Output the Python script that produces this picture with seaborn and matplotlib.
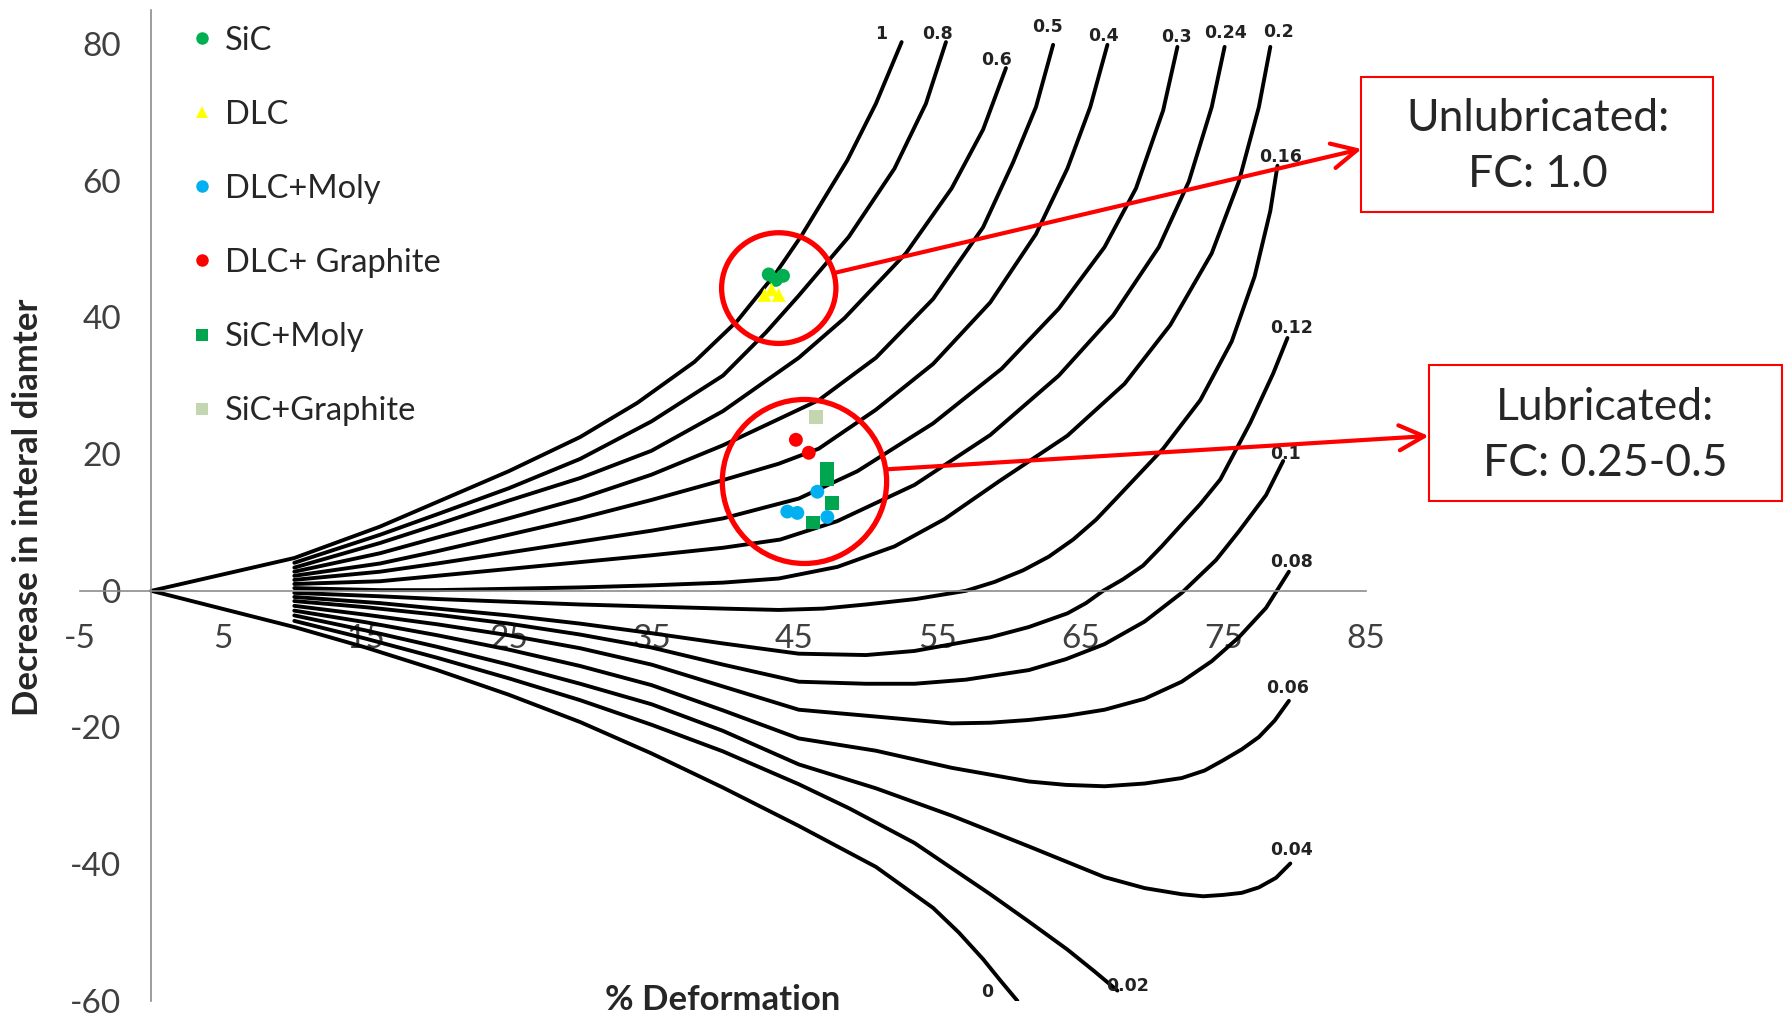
import numpy as np
import pandas as pd
import seaborn as sns
import matplotlib.pyplot as plt
from matplotlib.patches import Ellipse, Rectangle
from matplotlib.lines import Line2D

sns.set_style("white")
plt.rcParams['font.family'] = ['Lato', 'DejaVu Sans']
plt.rcParams['axes.unicode_minus'] = False

# ring compression calibration curves (friction factor m)
m_labels = ['1', '0.8', '0.6', '0.5', '0.4', '0.3', '0.24', '0.2',
            '0.16', '0.12', '0.1', '0.08', '0.06', '0.04', '0.02', '0']

m100_x = [0, 10, 16, 20, 25, 30, 34, 38, 41, 43.7, 45.5, 48.7, 50.7, 52.5]
m100_y = [0, 4.8, 9.4, 13, 17.5, 22.5, 27.5, 33.5, 39.5, 46.5, 52, 63, 71.3, 80.3]
m080_x = [10, 16, 20, 25, 30, 35, 40, 43, 45.3, 48.8, 52, 54.2, 55.6]
m080_y = [4.1, 8.2, 11.2, 15, 19.3, 24.8, 31.5, 37.8, 43.2, 51.8, 61.8, 71.3, 80.3]
m060_x = [10, 16, 20, 25, 30, 35, 40, 45.3, 48.5, 52.8, 56.0, 58.2, 59.8]
m060_y = [3.4, 7.0, 9.7, 13.2, 16.5, 20.5, 26.3, 34.1, 39.9, 49.4, 58.9, 67.5, 76.5]
m050_x = [10, 16, 20, 25, 30, 35, 40, 46.7, 50.7, 54.7, 58.2, 60.3, 61.9, 63.1]
m050_y = [2.8, 5.5, 7.8, 10.6, 13.5, 17, 21.3, 27.9, 34.1, 42.7, 53.2, 62.7, 70.8, 79.9]
m040_x = [10, 16, 20, 25, 30, 35, 40, 43.9, 46.7, 50.7, 54.7, 58.7, 61.9, 64.1, 65.7, 66.9]
m040_y = [2.2, 4.0, 5.8, 8.2, 10.6, 13.3, 16.2, 18.6, 20.8, 26.5, 33.2, 42.2, 52.2, 61.8, 70.8, 79.9]
m030_x = [10, 16, 20, 25, 30, 35, 40, 45.3, 49.4, 54.7, 59.5, 63.5, 66.7, 68.9, 70.8, 71.8]
m030_y = [1.6, 2.8, 4.0, 5.6, 7.2, 8.8, 10.6, 13.5, 17.5, 24.5, 32.5, 41.3, 50.3, 58.9, 70.3, 79.6]
m024_x = [10, 16, 20, 25, 30, 35, 40, 44, 48, 53.4, 58.7, 63.5, 67.3, 70.5, 72.6, 74.2, 75.1]
m024_y = [1.0, 1.4, 2.2, 3.2, 4.2, 5.2, 6.3, 7.5, 10.2, 15.5, 22.8, 31.5, 40.3, 50.3, 59.9, 70.8, 79.6]
m020_x = [10, 16, 20, 25, 30, 35, 40, 43.9, 48, 52, 55.5, 59.3, 64.1, 68.1, 71.3, 74.2, 76.1, 77.5, 78.3]
m020_y = [0.4, 0.1, 0.1, 0.3, 0.5, 0.8, 1.2, 1.8, 3.5, 6.5, 10.5, 16.0, 22.7, 30.3, 38.9, 49.4, 59.9, 70.8, 79.6]
m016_x = [10, 16, 20, 25, 30, 35, 40, 43.9, 47, 50, 53.5, 57, 59, 61, 62.8, 64.5, 66.1,
          67.6, 70.8, 73.4, 75.6, 77.2, 78.3, 78.8]
m016_y = [-0.3, -0.8, -1.2, -1.6, -2.0, -2.3, -2.6, -2.8, -2.6, -2.0, -1.2, 0, 1.3, 3.0, 5.0,
          7.5, 10.4, 13.7, 20.8, 27.9, 36.5, 46.0, 55.6, 62.2]
m012_x = [10, 16, 20, 25, 30, 35, 40, 45.3, 50, 53.4, 58.7, 61.4, 64.1, 65.4, 66.6, 68,
          69.4, 70.7, 72, 73.4, 74.8, 76.9, 78.5, 79.5]
m012_y = [-0.9, -1.8, -2.6, -3.6, -4.8, -6.2, -7.7, -9.2, -9.4, -8.8, -6.8, -5.3, -3.3, -1.8,
          0, 1.7, 3.7, 6.5, 9.5, 12.7, 16.3, 24.6, 31.8, 37.0]
m010_x = [10, 15, 20, 25, 30, 35, 40, 45.3, 50, 53.4, 57, 61.4, 64, 66.7, 69.5, 72.1, 74.5, 76.1, 78.0, 79.2]
m010_y = [-1.5, -2.4, -3.5, -4.8, -6.4, -8.3, -10.8, -13.3, -13.6, -13.6, -13.0, -11.6, -10.0,
          -7.8, -4.5, -0.3, 4.5, 8.7, 14.0, 19.0]
m008_x = [10, 15, 20, 25, 30, 35, 40, 45.3, 50.7, 56.0, 58.7, 61.4, 64, 66.7, 69.5, 72.1,
          74.2, 76.1, 78, 79.6]
m008_y = [-2.2, -3.5, -4.9, -6.5, -8.4, -10.8, -14.0, -17.4, -18.4, -19.4, -19.3, -18.9, -18.3,
          -17.4, -15.8, -13.3, -10.3, -6.8, -2.5, 2.8]
m006_x = [10, 15, 20, 25, 30, 35, 40, 45.3, 50.7, 56.0, 61.4, 64, 66.7, 69.5, 72.1, 73.7,
          75, 76.3, 77.5, 78.6, 79.6]
m006_y = [-2.9, -4.6, -6.5, -8.6, -11.0, -13.8, -17.5, -21.6, -23.4, -25.9, -27.9, -28.4, -28.6,
          -28.2, -27.4, -26.3, -24.8, -23.2, -21.4, -19.0, -16.1]
m004_x = [10, 15, 20, 25, 30, 35, 40, 45.3, 50.7, 56.0, 61.4, 66.7, 69.5, 72.1, 73.6, 75,
          76.3, 77.5, 78.7, 79.7]
m004_y = [-3.6, -5.8, -8.2, -10.8, -13.6, -16.6, -20.5, -25.4, -28.9, -32.9, -37.4, -41.9, -43.5,
          -44.4, -44.7, -44.5, -44.2, -43.4, -42.0, -39.9]
m002_x = [10, 15, 20, 25, 30, 35, 40, 45.3, 48.8, 53.4, 58.7, 61.4, 64.1, 66, 67.6]
m002_y = [-4.4, -7.0, -9.8, -12.8, -16.0, -19.6, -23.5, -28.3, -31.8, -36.9, -44.4, -48.4, -52.5,
          -55.7, -58.5]
m000_x = [0, 10, 15, 20, 25, 30, 35, 40, 45.3, 50.7, 54.7, 56.5, 58.2, 59.4, 60.6]
m000_y = [0, -5.3, -8.3, -11.6, -15.2, -19.2, -23.8, -28.8, -34.4, -40.4, -46.4, -50.0, -53.9,
          -57.0, -60.0]

# measured rings
coatings = ['SiC', 'DLC', 'DLC+Moly', 'DLC+ Graphite', 'SiC+Moly', 'SiC+Graphite']
sic_x, sic_y = [43.2, 44.2, 43.7], [46.3, 46.1, 45.5]
dlc_x, dlc_y = [42.9, 43.9, 43.4], [43.3, 43.3, 44.1]
dlc_moly_x, dlc_moly_y = [44.5, 45.2, 46.6, 47.3], [11.6, 11.4, 14.5, 10.8]
dlc_gr_x, dlc_gr_y = [45.1, 46.0], [22.1, 20.2]
sic_moly_x, sic_moly_y = [47.3, 47.3, 47.6, 46.3], [17.9, 16.3, 12.9, 10.0]
sic_gr_x, sic_gr_y = [46.5], [25.5]

curve_x = [m100_x, m080_x, m060_x, m050_x, m040_x, m030_x, m024_x, m020_x,
           m016_x, m012_x, m010_x, m008_x, m006_x, m004_x, m002_x, m000_x]
curve_y = [m100_y, m080_y, m060_y, m050_y, m040_y, m030_y, m024_y, m020_y,
           m016_y, m012_y, m010_y, m008_y, m006_y, m004_y, m002_y, m000_y]
curves = pd.concat([pd.DataFrame({'m': lab, 'x': xs, 'y': ys})
                    for lab, xs, ys in zip(m_labels, curve_x, curve_y)])

pts_x = [sic_x, dlc_x, dlc_moly_x, dlc_gr_x, sic_moly_x, sic_gr_x]
pts_y = [sic_y, dlc_y, dlc_moly_y, dlc_gr_y, sic_moly_y, sic_gr_y]
points = pd.concat([pd.DataFrame({'coating': c, 'x': xs, 'y': ys})
                    for c, xs, ys in zip(coatings, pts_x, pts_y)])

colors = ['#00B050', '#FFFF00', '#00B0F0', '#FF0000', '#00A550', '#C4D6B0']
marks = ['o', '^', 'o', 'o', 's', 's']
palette = dict(zip(coatings, colors))
markers = dict(zip(coatings, marks))

fig = plt.figure(figsize=(17.85, 10.17), dpi=100)
ax = fig.add_axes([0.0448, 0.0159, 0.7205, 0.9743])

sns.lineplot(data=curves, x='x', y='y', units='m', estimator=None, sort=False,
             color='black', lw=2.8, solid_joinstyle='round', ax=ax, legend=False)
sns.scatterplot(data=points, x='x', y='y', hue='coating', style='coating',
                palette=palette, markers=markers, s=100, linewidth=0,
                ax=ax, legend=False, zorder=4)

ax.set_xlim(-5, 85)
ax.set_ylim(-60, 85)
ax.set_xticks(range(-5, 86, 10))
ax.set_yticks(range(-60, 81, 20))
ax.set_xlabel('')
ax.set_ylabel('')
ax.set_axisbelow(True)
for s in ['top', 'right']:
    ax.spines[s].set_visible(False)
ax.spines['left'].set_position(('data', 0))
ax.spines['bottom'].set_position(('data', 0))
for s in ['left', 'bottom']:
    ax.spines[s].set_color('#8c8c8c')
    ax.spines[s].set_linewidth(1.2)
ax.tick_params(axis='both', direction='out', length=8, width=1.2, color='#8c8c8c',
               labelsize=24, labelcolor='#404040')
ax.tick_params(axis='x', pad=16)
ax.tick_params(axis='y', pad=14)

# curve end labels
label_offsets = {'1': (-15, 6), '0.8': (-6, 6), '0.6': (-7, 6), '0.5': (-4, 13),
                 '0.4': (-3, 6), '0.3': (-1, 7), '0.24': (1, 10), '0.2': (6, 11),
                 '0.16': (2, 6), '0.12': (3, 7), '0.1': (2, 5), '0.08': (2, 7),
                 '0.06': (-1, 9), '0.04': (1, 10), '0.02': (7, 3), '0': (-22, 6)}
for lab, xs, ys in zip(m_labels, curve_x, curve_y):
    ax.annotate(lab, (xs[-1], ys[-1]), xytext=label_offsets[lab], textcoords='offset points',
                ha='center', va='center', fontsize=12.5, fontweight='bold', color='#222222',
                family='DejaVu Sans')

# legend
handles = [Line2D([], [], ls='', marker=mk, color=c, markersize=9, markeredgewidth=0)
           for mk, c in zip(marks, colors)]
ax.legend(handles, coatings, loc='upper left', bbox_to_anchor=(0.6, 87.0),
          bbox_transform=ax.transData, frameon=False, fontsize=23.5, labelspacing=1.35,
          handlelength=0.8, handletextpad=0.3, labelcolor='#262626')

# red circles
ax.add_patch(Ellipse((43.9, 44.3), 8.0, 16.2, fill=False, ec='red', lw=3.8, zorder=5))
ax.add_patch(Ellipse((45.7, 16.0), 11.5, 24.0, fill=False, ec='red', lw=3.8, zorder=5))

# call-out boxes
fig.add_artist(Rectangle((0.7625, 0.7915), 0.1972, 0.1327, transform=fig.transFigure,
                         fill=False, ec='red', lw=1.5))
fig.add_artist(Rectangle((0.8006, 0.5074), 0.1978, 0.1337, transform=fig.transFigure,
                         fill=False, ec='red', lw=1.5))
fig.text(0.8616, 0.8560, 'Unlubricated:\nFC: 1.0', ha='center', va='center',
         fontsize=32, linespacing=1.45)
fig.text(0.8992, 0.5718, 'Lubricated:\nFC: 0.25-0.5', ha='center', va='center',
         fontsize=32, linespacing=1.45)

arrow = dict(arrowstyle='->', color='red', lw=3, mutation_scale=45, shrinkA=0, shrinkB=0)
ax.annotate('', xy=(0.7628, 0.8535), xycoords='figure fraction',
            xytext=(47.75, 46.5), textcoords='data', arrowprops=arrow)
ax.annotate('', xy=(0.8004, 0.5713), xycoords='figure fraction',
            xytext=(51.6, 17.8), textcoords='data', arrowprops=arrow)

fig.text(0.0159, 0.5015, 'Decrease in interal diamter', rotation=90, ha='center',
         va='center', fontsize=25, fontweight='bold', color='#262626')
fig.text(0.405, 0.0167, '% Deformation', ha='center', va='center',
         fontsize=25, fontweight='bold', color='#262626')

fig.savefig('out.png', dpi=100)
